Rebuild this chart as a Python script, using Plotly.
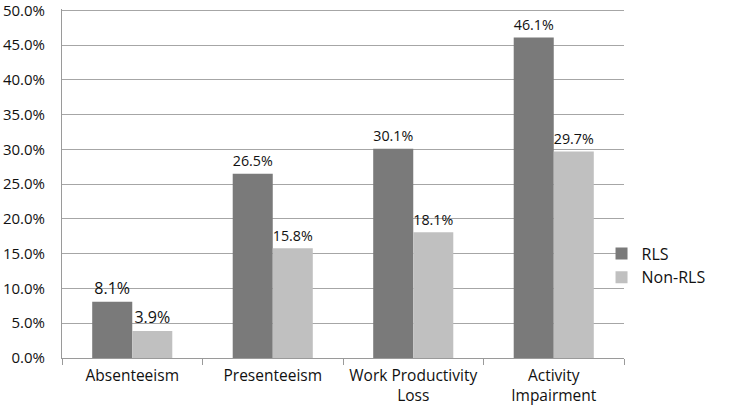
import plotly.graph_objects as go

categories = ["Absenteeism", "Presenteeism", "Work Productivity<br>Loss", "Activity<br>Impairment"]
rls = [0.081, 0.265, 0.301, 0.461]
non_rls = [0.039, 0.158, 0.181, 0.297]
tick_vals = [0.0, 0.05, 0.10, 0.15, 0.20, 0.25, 0.30, 0.35, 0.40, 0.45, 0.50]

font_family = "Open Sans, Liberation Sans, sans-serif"

fig = go.Figure()
fig.add_trace(go.Bar(x=categories, y=rls, name="RLS",
                     marker=dict(color="#7a7a7a", line_width=0),
                     texttemplate="%{y:.1%}", textposition="outside",
                     textfont=dict(size=16, color="#111111"), cliponaxis=False))
fig.add_trace(go.Bar(x=categories, y=non_rls, name="Non-RLS",
                     marker=dict(color="#c0c0c0", line_width=0),
                     texttemplate="%{y:.1%}", textposition="outside",
                     textfont=dict(size=16, color="#111111"), cliponaxis=False))

fig.update_layout(
    width=730, height=414,
    margin=dict(l=62, r=106, t=9, b=56, autoexpand=False),
    paper_bgcolor="white", plot_bgcolor="white",
    font=dict(family=font_family, size=16, color="#111111"),
    barmode="group", bargap=0.43, bargroupgap=0.0,
    legend=dict(x=0.96, y=0.265, xanchor="left", yanchor="middle",
                font=dict(size=16), itemwidth=30, bgcolor="rgba(0,0,0,0)"),
    showlegend=True,
)
fig.update_xaxes(showline=True, linecolor="#9a9a9a", linewidth=1, automargin=False,
                 ticks="outside", tickson="boundaries", ticklen=6, tickcolor="#9a9a9a",
                 showgrid=False, tickangle=0, ticklabelstandoff=3, tickfont=dict(size=15.5))
fig.update_yaxes(range=[0, 0.502], tickvals=tick_vals, tickformat=".1%",
                 showline=True, linecolor="#9a9a9a", linewidth=1, automargin=False,
                 gridcolor="#a6a6a6", gridwidth=1, zeroline=False,
                 ticks="", ticklabelstandoff=13, ticklabeloverflow="allow",
                 tickfont=dict(size=15))

# page body has a default 8px margin; drop it so the figure sits at the corner
fig.write_html("out.html", config={"displayModeBar": False},
               post_script="document.body.style.margin='0';")
